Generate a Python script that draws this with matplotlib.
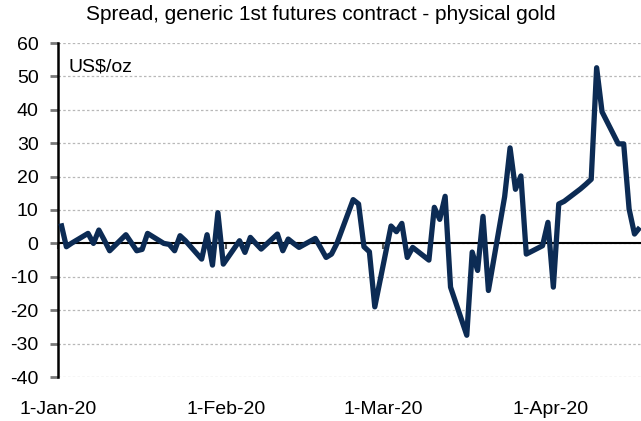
import matplotlib
matplotlib.use("Agg")
import matplotlib.pyplot as plt
import matplotlib.dates as mdates
import pandas as pd
import numpy as np

plt.rcParams['font.family'] = ['Liberation Sans', 'DejaVu Sans']
plt.rcParams['axes.unicode_minus'] = False

title = "Spread, generic 1st futures contract - physical gold"
unit_label = "US$/oz"

dates = pd.to_datetime([
    "2020-01-01", "2020-01-02", "2020-01-03", "2020-01-06", "2020-01-07", "2020-01-08",
    "2020-01-09", "2020-01-10", "2020-01-13", "2020-01-14", "2020-01-15", "2020-01-16",
    "2020-01-17", "2020-01-20", "2020-01-21", "2020-01-22", "2020-01-23", "2020-01-24",
    "2020-01-27", "2020-01-28", "2020-01-29", "2020-01-30", "2020-01-31",
    "2020-02-03", "2020-02-04", "2020-02-05", "2020-02-06", "2020-02-07",
    "2020-02-10", "2020-02-11", "2020-02-12", "2020-02-13", "2020-02-14",
    "2020-02-17", "2020-02-18", "2020-02-19", "2020-02-20", "2020-02-21",
    "2020-02-24", "2020-02-25", "2020-02-26", "2020-02-27", "2020-02-28",
    "2020-03-02", "2020-03-03", "2020-03-04", "2020-03-05", "2020-03-06",
    "2020-03-09", "2020-03-10", "2020-03-11", "2020-03-12", "2020-03-13",
    "2020-03-16", "2020-03-17", "2020-03-18", "2020-03-19", "2020-03-20",
    "2020-03-23", "2020-03-24", "2020-03-25", "2020-03-26", "2020-03-27",
    "2020-03-30", "2020-03-31", "2020-04-01", "2020-04-02", "2020-04-03",
    "2020-04-06", "2020-04-07", "2020-04-08", "2020-04-09", "2020-04-10",
    "2020-04-13", "2020-04-14", "2020-04-15", "2020-04-16", "2020-04-17",
])

spread = [
    6.0, -1.0, 0.1, 3.0, 0.0, 4.0,
    1.0, -2.2, 2.6, 0.2, -2.2, -1.8,
    3.0, 0.0, -0.3, -2.2, 2.3, 0.8,
    -4.7, 2.6, -6.5, 9.2, -6.2,
    0.8, -2.7, 1.8, 0.0, -1.7,
    2.8, -2.2, 1.3, 0.0, -1.2,
    1.5, -1.3, -4.2, -3.2, 0.0,
    13.1, 11.8, -1.0, -2.5, -19.0,
    5.2, 3.5, 6.0, -4.2, -1.2,
    -5.0, 10.8, 7.2, 14.1, -13.1,
    -27.5, -2.6, -8.1, 8.1, -14.1,
    14.0, 28.6, 16.2, 20.2, -3.2,
    -0.7, 6.3, -13.1, 11.8, 12.6,
    16.3, 17.7, 19.2, 52.6, 39.4,
    29.8, 29.8, 10.3, 2.8, 4.8,
]

tick_dates = pd.to_datetime(["2020-01-01", "2020-02-01", "2020-03-01", "2020-04-01"])
tick_labels = ["1-Jan-20", "1-Feb-20", "1-Mar-20", "1-Apr-20"]
y_ticks = list(range(-40, 61, 10))

navy = "#0c2b54"
fs_tick = 14
fs_title = 15

fig = plt.figure(figsize=(6.41, 4.21), dpi=100)
ax = fig.add_axes([58 / 641, 44 / 421, 1 - 58 / 641, (377 - 43) / 421])

ax.plot(dates, spread, color=navy, lw=3.8, solid_joinstyle='round', solid_capstyle='butt',
        zorder=3, clip_on=True)

x0 = mdates.date2num(pd.Timestamp("2020-01-01"))
ax.set_xlim(x0 - 0.55, x0 + 107.2)
ax.set_ylim(-40, 60)

# gridlines
ax.set_yticks(y_ticks)
ax.yaxis.grid(True, color="#b8b8b8", linestyle=(0, (2.0, 1.8)), linewidth=0.9)
ax.set_axisbelow(True)
ax.axhline(0, color="black", lw=1.5, zorder=2)

for s in ["top", "right"]:
    ax.spines[s].set_visible(False)
ax.spines["left"].set_linewidth(1.8)
ax.spines["left"].set_color("black")
ax.spines["bottom"].set_position(("data", 0))
ax.spines["bottom"].set_visible(False)

ax.tick_params(axis='y', direction='out', length=6, width=2, color="#7a7a7a",
               labelsize=fs_tick, pad=8)
tick_pos = mdates.date2num(tick_dates) - 0.5
ax.set_xticks(tick_pos)
ax.set_xticklabels([])
ax.tick_params(axis='x', direction='out', length=4, width=1.5, color="#555555")

sec = ax.secondary_xaxis('bottom')
sec.set_xticks(tick_pos)
sec.set_xticklabels(tick_labels)
sec.tick_params(length=0, labelsize=fs_tick, pad=17.5)
sec.spines["bottom"].set_visible(False)

ax.text(10 / 583, 1 - (67 - 43) / 334, unit_label, transform=ax.transAxes,
        fontsize=fs_tick, ha='left', va='center')

fig.text(0.5, 1 - 15 / 421, title, fontsize=fs_title, ha='center', va='center')

fig.savefig("out.png", dpi=100)
